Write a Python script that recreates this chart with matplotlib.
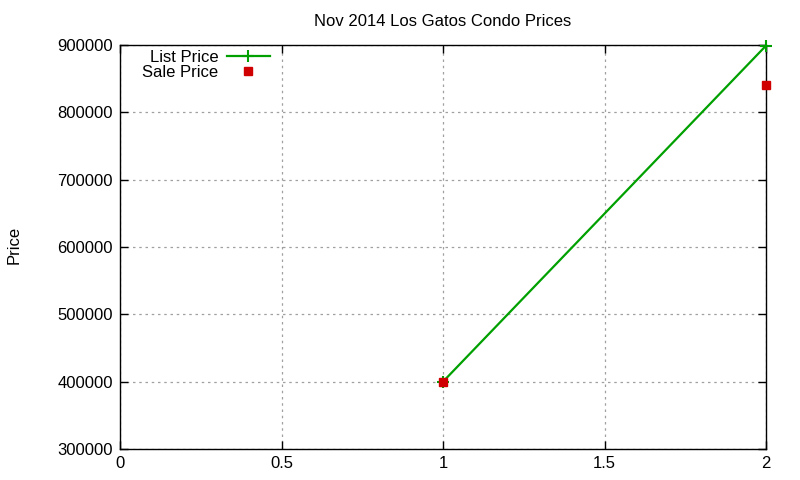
import matplotlib
matplotlib.use("Agg")
import matplotlib.pyplot as plt

# data
months = [1, 2]
list_price = [400000, 899000]
sale_price = [400000, 840000]

plt.rcParams['font.family'] = ['Liberation Sans', 'DejaVu Sans']
plt.rcParams['font.size'] = 12

fig = plt.figure(figsize=(8, 4.8), dpi=100)
ax = fig.add_axes([0.15, 1 - 449 / 480, (766 - 120) / 800, (449 - 45) / 480])

ax.plot(months, list_price, color="#00a000", lw=1.6, marker="+", ms=8, mew=1.5,
        label="List Price", zorder=3, clip_on=False)
ax.plot(months, sale_price, ls="none", marker="s", ms=6, color="#d00000",
        label="Sale Price", zorder=4, clip_on=False)

ax.set_xlim(0, 2)
ax.set_ylim(300000, 900000)
ax.set_xticks([0, 0.5, 1, 1.5, 2])
ax.set_xticklabels(["0", "0.5", "1", "1.5", "2"])
ax.set_yticks(range(300000, 900001, 100000))
ax.set_yticklabels([str(v) for v in range(300000, 900001, 100000)])

ax.grid(True, color="#a0a0a0", ls=(0, (2, 3)), lw=0.9)
ax.tick_params(direction="in", top=True, right=True, length=6, width=1,
               pad=5, labelsize=12, colors="black")
for s in ax.spines.values():
    s.set_linewidth(1.0)

ax.set_title("Nov 2014 Los Gatos Condo Prices", fontsize=12, pad=14)
fig.text(0.008, 0.49, "Price", rotation=90, fontsize=12, va="center")

leg = ax.legend(loc="upper right", bbox_to_anchor=(270 / 800, 1 - 50 / 480),
                bbox_transform=fig.transFigure, frameon=False,
                markerfirst=False, handlelength=2.6, fontsize=12,
                borderaxespad=0.0, borderpad=0.0, labelspacing=0.0,
                handletextpad=0.5)
for t in leg.get_texts():
    t.set_ha("right")
leg._legend_box.align = "right"

fig.savefig("out.png", dpi=100)
